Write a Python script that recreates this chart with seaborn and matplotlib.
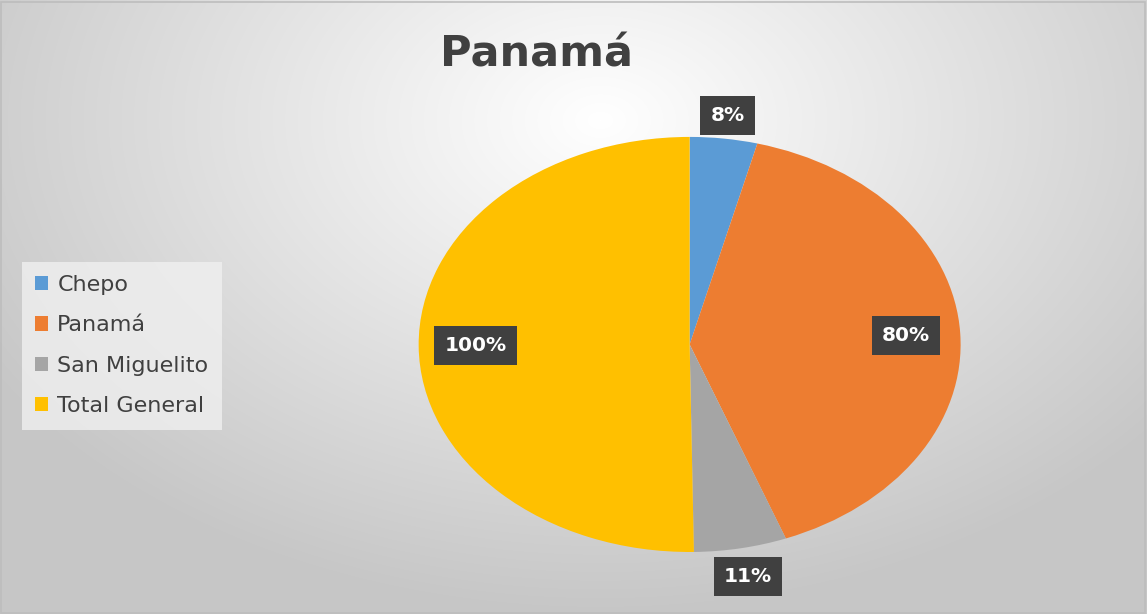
import numpy as np
import matplotlib
matplotlib.use("Agg")
import matplotlib.pyplot as plt
import seaborn as sns

# datos del gráfico
categorias = ["Chepo", "Panamá", "San Miguelito", "Total General"]
valores = [8, 80, 11, 100]
colores = ["#5B9BD5", "#ED7D31", "#A5A5A5", "#FFC000"]
titulo = "Panamá"

sns.set_theme(style="white")
plt.rcParams['font.family'] = ['DejaVu Sans']

fig = plt.figure(figsize=(11.47, 6.14), dpi=100)

# fondo con degradado radial
bg = fig.add_axes([0, 0, 1, 1])
h, w = 614, 1147
yy, xx = np.mgrid[0:h, 0:w]
d = np.sqrt(((xx - 600) / 900.0) ** 2 + ((yy - 120) / 620.0) ** 2)
shade = np.clip(1.0 - 0.28 * d, 0.78, 1.0)
bg.imshow(np.dstack([shade] * 3), extent=[0, 1, 0, 1], aspect="auto")
bg.set_axis_off()
bg.add_patch(plt.Rectangle((0.001, 0.002), 0.997, 0.995, fill=False,
                           edgecolor="#bdbdbd", lw=1.2, transform=bg.transAxes))

ax = fig.add_axes([0.365, 0.101, 0.4725, 0.676])
wedges, _ = ax.pie(valores, colors=colores, startangle=90, counterclock=False,
                   wedgeprops=dict(linewidth=0))
ax.set_aspect("auto")
ax.set_xlim(-1, 1)
ax.set_ylim(-1, 1)

# etiquetas con caja oscura
dist = [1.11, 0.8, 1.14, 0.79]
for wdg, v, r in zip(wedges, valores, dist):
    ang = np.deg2rad((wdg.theta1 + wdg.theta2) / 2)
    ax.text(r * np.cos(ang), r * np.sin(ang), f"{v}%", ha="center", va="center",
            color="white", fontsize=14.5, fontweight="bold",
            bbox=dict(boxstyle="square,pad=0.5", facecolor="#404040", edgecolor="none"),
            clip_on=False)

fig.text(0.468, 0.912, titulo, ha="center", va="center", fontsize=31,
         fontweight="bold", color="#404040")

leg = fig.legend(wedges, categorias, loc="upper left", bbox_to_anchor=(0.019, 0.574),
                 fontsize=16, frameon=True,
                 handlelength=0.6, handleheight=0.6,
                 handletextpad=0.4, labelspacing=0.92, borderpad=0.6,
                 labelcolor="#404040", borderaxespad=0)
leg.get_frame().set_facecolor("#f0f0f0")
leg.get_frame().set_edgecolor("none")
leg.get_frame().set_alpha(0.8)
leg.get_frame().set_boxstyle("square", pad=0)

fig.savefig("out.png", dpi=100)
